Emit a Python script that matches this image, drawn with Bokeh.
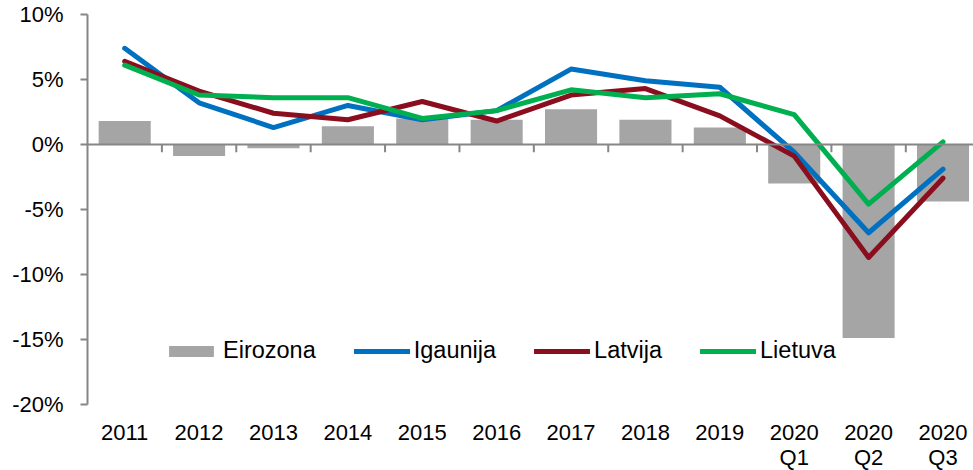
from bokeh.plotting import figure
from bokeh.models import (Range1d, LinearAxis, FixedTicker, Span, Legend,
                          LegendItem, ColumnDataSource, LabelSet)
from bokeh.core.properties import value
from bokeh.embed import file_html
from bokeh.resources import INLINE

categories = ["2011", "2012", "2013", "2014", "2015", "2016", "2017", "2018",
              "2019", "2020\nQ1", "2020\nQ2", "2020\nQ3"]
eirozona = [1.8, -0.9, -0.3, 1.4, 2.0, 1.9, 2.7, 1.9, 1.3, -3.0, -14.9, -4.4]
igaunija = [7.4, 3.2, 1.3, 3.0, 1.9, 2.6, 5.8, 4.9, 4.4, -0.6, -6.8, -1.9]
latvija = [6.4, 4.1, 2.4, 1.9, 3.3, 1.8, 3.8, 4.3, 2.2, -0.9, -8.7, -2.6]
lietuva = [6.1, 3.8, 3.6, 3.6, 2.0, 2.6, 4.2, 3.6, 3.9, 2.3, -4.6, 0.2]
y_ticks = [-20, -15, -10, -5, 0, 5, 10]

FONT = "Liberation Sans"
AXIS_GRAY = "#868686"
Y_MIN, Y_MAX = -20, 10
Y_VIEW_LOW = -25.1   # extra room under the axis for the category labels

xs = [i + 0.5 for i in range(len(categories))]
line1 = [c.split("\n")[0] for c in categories]
line2 = [c.split("\n")[1] if "\n" in c else "" for c in categories]
src = ColumnDataSource(dict(x=xs, eiro=eirozona, ig=igaunija, lv=latvija, lt=lietuva,
                            l1=line1, l2=line2, ybase=[Y_MIN] * len(categories)))

p = figure(width=973, height=470, x_range=Range1d(0, 11.91),
           y_range=Range1d(Y_VIEW_LOW, Y_MAX),
           output_backend="svg", toolbar_location=None,
           x_axis_type=None, y_axis_type=None,
           min_border_left=87, min_border_right=0, min_border_top=14, min_border_bottom=0)
p.outline_line_color = None
p.xgrid.visible = False
p.ygrid.visible = False

# y axis
yax = LinearAxis(ticker=FixedTicker(ticks=y_ticks), bounds=(Y_MIN, Y_MAX),
                 major_label_overrides={t: f"{t}%" for t in y_ticks})
yax.axis_line_color = AXIS_GRAY
yax.axis_line_width = 2
yax.major_tick_line_color = AXIS_GRAY
yax.major_tick_line_width = 2
yax.major_tick_out = 7
yax.major_tick_in = 0
yax.minor_tick_line_color = None
yax.minor_tick_out = 0
yax.minor_tick_in = 0
yax.major_label_text_font = FONT
yax.major_label_text_font_size = "22px"
yax.major_label_text_color = "black"
yax.major_label_standoff = 17
p.add_layout(yax, "left")

# category labels under the plot (two rows)
for col, off in (("l1", -28), ("l2", -53)):
    p.add_layout(LabelSet(x="x", y="ybase", text=col, source=src,
                          x_offset=0, y_offset=off,
                          text_align="center", text_baseline="middle",
                          text_font=value(FONT), text_font_size="22px",
                          text_color="black"))

# bars
bars = p.vbar(x="x", top="eiro", bottom=0, width=0.7, source=src,
              fill_color="#A5A5A5", line_color=None)

# zero line and category ticks
p.add_layout(Span(location=0, dimension="width", line_color=AXIS_GRAY, line_width=2))
bounds = [i for i in range(1, len(categories) + 1)]
p.segment(x0=bounds, y0=[0] * len(bounds), x1=bounds, y1=[-0.6] * len(bounds),
          line_color=AXIS_GRAY, line_width=2)

# lines
l_ig = p.line("x", "ig", source=src, line_color="#0070C0", line_width=5,
              line_cap="round", line_join="round")
l_lv = p.line("x", "lv", source=src, line_color="#8B0E1E", line_width=5,
              line_cap="round", line_join="round")
l_lt = p.line("x", "lt", source=src, line_color="#00B050", line_width=5,
              line_cap="round", line_join="round")

legend = Legend(items=[LegendItem(label="Eirozona", renderers=[bars]),
                       LegendItem(label="Igaunija", renderers=[l_ig]),
                       LegendItem(label="Latvija", renderers=[l_lv]),
                       LegendItem(label="Lietuva", renderers=[l_lt])],
                orientation="horizontal", location=(76, 106))
legend.border_line_color = None
legend.background_fill_alpha = 0
legend.padding = 0
legend.margin = 0
legend.spacing = 38
legend.glyph_width = 56
legend.glyph_height = 14
legend.label_standoff = 4
legend.label_text_font = FONT
legend.label_text_font_size = "23.5px"
legend.label_text_color = "black"
p.add_layout(legend)

open("out.html", "w").write(file_html(p, INLINE))
